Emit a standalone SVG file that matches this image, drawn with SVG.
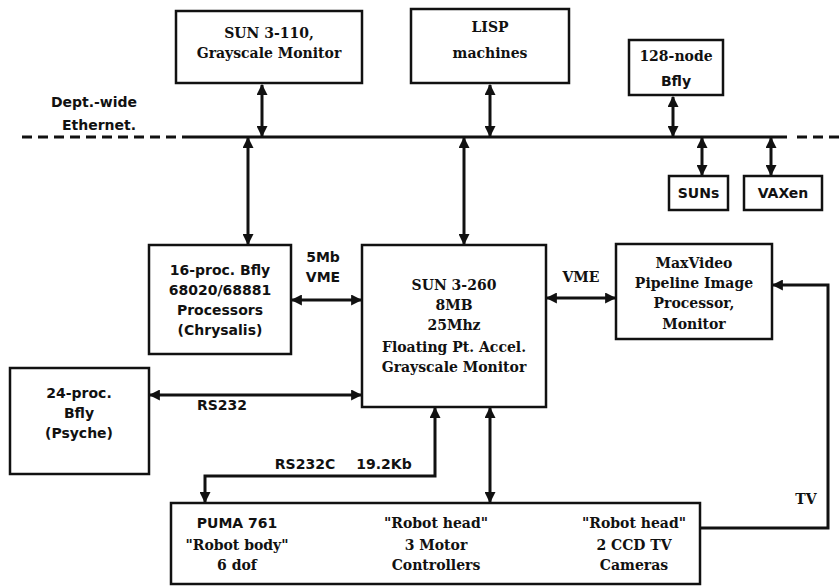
<svg xmlns="http://www.w3.org/2000/svg" width="839" height="587" viewBox="0 0 839 587">
<style>
.box{fill:#fff;stroke:#111;stroke-width:2.5}
.ln{fill:none;stroke:#111;stroke-width:3}
.dash{fill:none;stroke:#111;stroke-width:3;stroke-dasharray:10 6}
.sf{font-family:"DejaVu Serif","Liberation Serif",serif;font-weight:bold;font-size:14px;fill:#111;text-anchor:middle}
.ss{font-family:"DejaVu Sans","Liberation Sans",sans-serif;font-weight:bold;font-size:14px;fill:#111;text-anchor:middle}
</style>
<defs>
<marker id="ah" viewBox="0 0 10 10" refX="9" refY="5" markerWidth="11" markerHeight="11" markerUnits="userSpaceOnUse" orient="auto-start-reverse">
<path d="M0,0 L10,5 L0,10 Z" fill="#111"/>
</marker>
</defs>
<g id="ethernet">
<path class="dash" d="M22,137 H185"/>
<path class="ln" d="M185,137 H787"/>
<path class="dash" d="M797,137 H839"/>
<text class="ss" x="94" y="107">Dept.-wide</text>
<text class="ss" x="99" y="130">Ethernet.</text>
</g>
<g id="connectors">
<path class="ln" d="M262,85 V136" marker-start="url(#ah)" marker-end="url(#ah)"/>
<path class="ln" d="M490,85 V136" marker-start="url(#ah)" marker-end="url(#ah)"/>
<path class="ln" d="M673,97 V136" marker-start="url(#ah)" marker-end="url(#ah)"/>
<path class="ln" d="M702,138 V175" marker-start="url(#ah)" marker-end="url(#ah)"/>
<path class="ln" d="M771,138 V175" marker-start="url(#ah)" marker-end="url(#ah)"/>
<path class="ln" d="M248,138 V244" marker-start="url(#ah)" marker-end="url(#ah)"/>
<path class="ln" d="M464,138 V244" marker-start="url(#ah)" marker-end="url(#ah)"/>
<path class="ln" d="M292,300 H361" marker-start="url(#ah)" marker-end="url(#ah)"/>
<path class="ln" d="M547,298 H615" marker-start="url(#ah)" marker-end="url(#ah)"/>
<path class="ln" d="M150,395 H361" marker-start="url(#ah)" marker-end="url(#ah)"/>
<path class="ln" d="M435,408 V476 H205 V502" marker-start="url(#ah)" marker-end="url(#ah)"/>
<path class="ln" d="M490,408 V502" marker-start="url(#ah)" marker-end="url(#ah)"/>
<path class="ln" d="M700,528 H828 V285 H773" marker-end="url(#ah)"/>
<text class="ss" x="323" y="262">5Mb</text>
<text class="ss" x="323" y="282">VME</text>
<text class="sf" x="581" y="282">VME</text>
<text class="ss" x="222" y="410">RS232</text>
<text class="ss" x="305" y="469">RS232C</text>
<text class="ss" x="384" y="469">19.2Kb</text>
<text class="sf" x="806" y="504">TV</text>
</g>
<g id="sun3-110">
<rect class="box" x="176" y="11" width="186" height="72"/>
<text class="sf" x="269" y="38">SUN 3-110,</text>
<text class="sf" x="269" y="58">Grayscale Monitor</text>
</g>
<g id="lisp">
<rect class="box" x="411" y="9" width="158" height="74"/>
<text class="sf" x="490" y="32">LISP</text>
<text class="sf" x="490" y="58">machines</text>
</g>
<g id="bfly128">
<rect class="box" x="629" y="40" width="94" height="55"/>
<text class="sf" x="676" y="61">128-node</text>
<text class="ss" x="676" y="86">Bfly</text>
</g>
<g id="suns">
<rect class="box" x="669" y="176" width="59" height="34"/>
<text class="ss" x="698.5" y="198">SUNs</text>
</g>
<g id="vaxen">
<rect class="box" x="744" y="176" width="78" height="34"/>
<text class="ss" x="783" y="198">VAXen</text>
</g>
<g id="bfly16">
<rect class="box" x="149" y="245" width="142" height="109"/>
<text class="ss" x="220" y="275">16-proc. Bfly</text>
<text class="ss" x="220" y="295">68020/68881</text>
<text class="ss" x="220" y="315">Processors</text>
<text class="ss" x="220" y="335">(Chrysalis)</text>
</g>
<g id="sun3-260">
<rect class="box" x="362" y="245" width="184" height="162"/>
<text class="sf" x="454" y="290">SUN 3-260</text>
<text class="sf" x="454" y="310">8MB</text>
<text class="sf" x="454" y="330">25Mhz</text>
<text class="sf" x="454" y="352">Floating Pt. Accel.</text>
<text class="sf" x="454" y="372">Grayscale Monitor</text>
</g>
<g id="maxvideo">
<rect class="box" x="616" y="244" width="156" height="95"/>
<text class="sf" x="694" y="268">MaxVideo</text>
<text class="sf" x="694" y="288">Pipeline Image</text>
<text class="sf" x="694" y="308">Processor,</text>
<text class="sf" x="694" y="329">Monitor</text>
</g>
<g id="bfly24">
<rect class="box" x="10" y="368" width="139" height="106"/>
<text class="ss" x="79" y="398">24-proc.</text>
<text class="ss" x="79" y="418">Bfly</text>
<text class="ss" x="79" y="438">(Psyche)</text>
</g>
<g id="robot">
<rect class="box" x="171" y="503" width="529" height="81"/>
<text class="ss" x="237" y="528">PUMA 761</text>
<text class="sf" x="237" y="550">"Robot body"</text>
<text class="sf" x="237" y="570">6 dof</text>
<text class="sf" x="436" y="528">"Robot head"</text>
<text class="sf" x="436" y="550">3 Motor</text>
<text class="sf" x="436" y="570">Controllers</text>
<text class="sf" x="634" y="528">"Robot head"</text>
<text class="sf" x="634" y="550">2 CCD TV</text>
<text class="sf" x="634" y="570">Cameras</text>
</g>
</svg>
